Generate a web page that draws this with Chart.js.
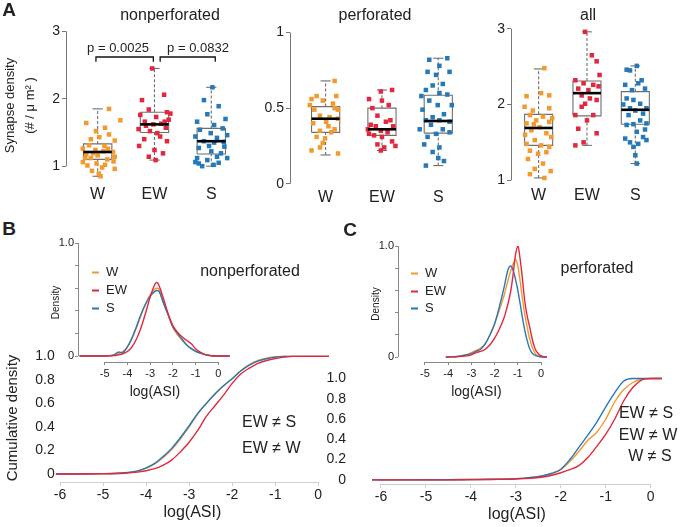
<!DOCTYPE html>
<html>
<head>
<meta charset="utf-8">
<script src="https://cdn.jsdelivr.net/npm/chart.js@4.4.1/dist/chart.umd.min.js"></script>
<style>
  body { margin: 0; background: #fff; }
  #page { position: relative; width: 682px; height: 527px; overflow: hidden; font-family: "Liberation Sans", Arial, sans-serif; color: #222; }
  canvas { position: absolute; }
  .t { position: absolute; white-space: nowrap; transform: translate(-50%, -50%); line-height: 1; }
  .l { position: absolute; white-space: nowrap; transform: translate(0, -50%); line-height: 1; }
  .dash { display: inline-block; width: 7px; height: 2px; vertical-align: middle; margin-right: 7px; }
</style>
</head>
<body>
<div id="page">
  <canvas id="a1"></canvas>
  <canvas id="a2"></canvas>
  <canvas id="a3"></canvas>
  <canvas id="bMain"></canvas>
  <canvas id="bInset"></canvas>
  <canvas id="cMain"></canvas>
  <canvas id="cInset"></canvas>

  <div class="t" style="left:9px;top:9px;font-size:19px;font-weight:bold">A</div>
  <div class="t" style="left:170px;top:15px;font-size:16px">nonperforated</div>
  <div class="t" style="left:375px;top:15px;font-size:16px">perforated</div>
  <div class="t" style="left:588px;top:15px;font-size:16px">all</div>
  <div class="t" style="left:118px;top:47px;font-size:13px">p = 0.0025</div>
  <div class="t" style="left:198px;top:47px;font-size:13px">p = 0.0832</div>

  <div class="t" style="left:9px;top:228px;font-size:19px;font-weight:bold">B</div>
  <div class="t" style="left:350px;top:229px;font-size:19px;font-weight:bold">C</div>
  <div class="t" style="left:250px;top:271px;font-size:16px">nonperforated</div>
  <div class="t" style="left:597px;top:268px;font-size:16px">perforated</div>

  <div class="l" style="left:92px;top:271px;font-size:13px"><span class="dash" style="background:#F39A2E"></span>W</div>
  <div class="l" style="left:92px;top:289px;font-size:13px"><span class="dash" style="background:#E2283E"></span>EW</div>
  <div class="l" style="left:92px;top:307px;font-size:13px"><span class="dash" style="background:#2679B8"></span>S</div>
  <div class="l" style="left:411px;top:272px;font-size:13px"><span class="dash" style="background:#F39A2E"></span>W</div>
  <div class="l" style="left:411px;top:290px;font-size:13px"><span class="dash" style="background:#E2283E"></span>EW</div>
  <div class="l" style="left:411px;top:307px;font-size:13px"><span class="dash" style="background:#2679B8"></span>S</div>

  <div class="l" style="left:242px;top:422px;font-size:16px">EW ≠ S</div>
  <div class="l" style="left:242px;top:448px;font-size:16px">EW ≠ W</div>
  <div class="t" style="left:646px;top:413px;font-size:16px">EW ≠ S</div>
  <div class="t" style="left:648px;top:435px;font-size:16px">EW ≠ W</div>
  <div class="t" style="left:650px;top:456px;font-size:16px">W ≠ S</div>
</div>
<script>
// ---- data ----
const groups = ["W", "EW", "S"];

// box stats: [min, q1, median, q3, max] for W, EW, S
const nonperfBox = [[0.85, 1.10, 1.21, 1.33, 1.85], [1.09, 1.50, 1.62, 1.80, 2.45], [1.00, 1.18, 1.37, 1.56, 2.17]];
const perfBox = [[0.19, 0.34, 0.43, 0.51, 0.68], [0.22, 0.32, 0.36, 0.50, 0.62], [0.12, 0.335, 0.415, 0.585, 0.83]];
const allBox = [[1.03, 1.46, 1.69, 1.87, 2.47], [1.46, 1.85, 2.15, 2.31, 2.96], [1.22, 1.74, 1.93, 2.17, 2.51]];

// individual animals: [jitter offset, density]
const nonperfW = [[0.2,1.85],[0.4,1.68],[-0.2,1.64],[0.13,1.57],[-0.03,1.52],[0.2,1.47],[0.03,1.43],[-0.12,1.40],[0.3,1.38],[-0.15,1.31],[0.12,1.30],[-0.26,1.26],[-0.04,1.24],[0.1,1.22],[0.27,1.21],[-0.2,1.18],[0.0,1.16],[0.3,1.14],[-0.12,1.12],[0.17,1.10],[-0.26,1.06],[-0.02,1.04],[0.28,1.07],[-0.18,1.01],[0.08,0.98],[0.3,0.96],[-0.1,0.93],[0.02,0.89],[0.05,0.85],[0.18,1.26],[-0.08,1.19],[0.13,1.02],[-0.22,1.12]];
const nonperfEW = [[-0.04,2.45],[0.17,2.06],[-0.22,1.98],[-0.1,1.84],[0.22,1.80],[-0.25,1.76],[0.03,1.73],[0.25,1.69],[-0.17,1.66],[-0.02,1.62],[0.12,1.63],[0.2,1.57],[-0.28,1.55],[-0.08,1.52],[0.05,1.49],[-0.18,1.40],[0.22,1.37],[-0.27,1.30],[0.0,1.24],[0.15,1.19],[-0.1,1.14],[0.02,1.09],[0.28,1.78],[0.1,1.44],[-0.15,1.60],[0.18,1.66]];
const nonperfS = [[0.02,2.17],[-0.13,1.98],[0.13,1.89],[-0.07,1.77],[-0.25,1.66],[0.25,1.70],[0.05,1.61],[-0.2,1.54],[0.2,1.56],[-0.01,1.49],[-0.28,1.44],[0.1,1.42],[0.28,1.46],[-0.13,1.37],[0.05,1.35],[0.23,1.29],[-0.22,1.27],[0.0,1.22],[0.17,1.19],[-0.25,1.12],[-0.07,1.09],[0.1,1.14],[0.28,1.12],[-0.22,1.04],[-0.16,1.0],[0.04,1.02],[0.22,1.36],[-0.04,1.30],[0.13,1.05],[-0.28,1.06]];

const perfW = [[0.16,0.68],[-0.25,0.56],[-0.16,0.58],[0.19,0.58],[-0.05,0.55],[0.13,0.53],[0.22,0.49],[-0.2,0.49],[-0.1,0.45],[0.07,0.44],[0.22,0.43],[-0.22,0.40],[0.01,0.41],[0.16,0.36],[-0.1,0.35],[0.1,0.34],[-0.16,0.31],[-0.01,0.30],[-0.25,0.22],[-0.1,0.24],[0.22,0.20],[0.16,0.50],[-0.28,0.52],[0.05,0.38],[-0.05,0.27]];
const perfEW = [[0.18,0.62],[-0.02,0.61],[-0.23,0.56],[0.0,0.55],[0.12,0.52],[-0.17,0.50],[-0.08,0.45],[0.07,0.41],[0.15,0.42],[-0.2,0.39],[-0.11,0.38],[-0.02,0.35],[0.1,0.34],[-0.23,0.33],[-0.14,0.32],[0.0,0.31],[0.18,0.28],[-0.08,0.26],[0.04,0.24],[0.24,0.25],[-0.02,0.22],[0.2,0.38],[-0.25,0.36]];
const perfS = [[-0.16,0.82],[0.16,0.83],[0.02,0.78],[-0.19,0.74],[0.2,0.74],[-0.04,0.72],[0.08,0.66],[-0.1,0.65],[-0.22,0.62],[0.02,0.60],[0.16,0.59],[-0.16,0.55],[-0.01,0.52],[-0.28,0.49],[0.1,0.46],[-0.1,0.44],[-0.22,0.42],[0.02,0.42],[0.2,0.41],[-0.13,0.39],[-0.33,0.36],[0.08,0.36],[-0.04,0.33],[-0.19,0.31],[0.2,0.34],[-0.25,0.26],[0.02,0.24],[-0.1,0.21],[0.1,0.15],[-0.22,0.12],[0.0,0.17],[0.24,0.52],[-0.3,0.58]];

const allW = [[0.12,2.48],[-0.25,2.11],[0.05,2.15],[0.22,2.12],[-0.29,1.97],[-0.12,1.92],[0.22,1.95],[-0.18,1.86],[0.09,1.84],[-0.05,1.79],[0.22,1.77],[-0.25,1.75],[0.02,1.70],[-0.15,1.66],[0.16,1.62],[0.26,1.57],[-0.08,1.53],[-0.25,1.48],[0.05,1.46],[0.22,1.44],[-0.18,1.39],[-0.01,1.35],[0.16,1.37],[-0.22,1.28],[0.09,1.22],[-0.08,1.15],[-0.18,1.08],[0.12,1.03],[0.25,1.12],[-0.28,1.60],[0.28,1.82],[-0.1,1.74]];
const allEW = [[-0.04,2.96],[0.1,2.65],[0.2,2.57],[0.26,2.39],[-0.24,2.32],[-0.07,2.28],[0.13,2.26],[-0.18,2.21],[0.03,2.19],[-0.11,2.12],[0.06,2.08],[0.2,2.06],[-0.04,2.01],[-0.11,1.97],[-0.24,1.86],[0.13,1.86],[0.0,1.79],[-0.18,1.68],[0.2,1.62],[-0.07,1.50],[-0.24,1.46],[0.24,2.24]];
const allS = [[0.03,2.51],[-0.18,2.46],[-0.11,2.45],[0.13,2.32],[0.06,2.28],[-0.21,2.26],[-0.07,2.19],[0.2,2.21],[-0.18,2.08],[-0.04,2.06],[0.1,2.01],[-0.11,1.95],[0.0,1.92],[0.23,1.95],[0.16,1.88],[-0.14,1.86],[0.1,1.79],[-0.18,1.73],[-0.04,1.74],[0.23,1.75],[0.03,1.64],[-0.21,1.55],[0.16,1.57],[-0.11,1.50],[0.06,1.48],[0.23,1.53],[-0.04,1.44],[0.0,1.33],[0.03,1.22],[0.2,1.67],[-0.25,2.0]];

// cumulative distributions of log(ASI)
const cumXB = [-6.1,-5,-4.5,-4.2,-4,-3.8,-3.6,-3.4,-3.2,-3,-2.8,-2.6,-2.4,-2.2,-2,-1.8,-1.6,-1.4,-1.2,-1,-0.8,-0.6,-0.4,-0.2,0,0.25];
const cumBW  = [0,0.003,0.01,0.025,0.048,0.085,0.14,0.21,0.3,0.4,0.51,0.6,0.68,0.75,0.81,0.88,0.93,0.965,0.985,0.997,1,1,1,1,1,1];
const cumBEW = [0,0.002,0.007,0.016,0.028,0.045,0.075,0.12,0.19,0.27,0.37,0.49,0.58,0.67,0.77,0.85,0.9,0.94,0.965,0.982,0.993,1,1,1,1,1];
const cumBS  = [0,0.003,0.011,0.027,0.052,0.09,0.15,0.22,0.31,0.41,0.515,0.6,0.68,0.75,0.81,0.875,0.925,0.96,0.98,0.993,1,1,1,1,1,1];

const cumXC = [-6.2,-4.5,-4,-3.5,-3,-2.8,-2.6,-2.4,-2.2,-2,-1.8,-1.6,-1.4,-1.2,-1,-0.8,-0.6,-0.4,-0.2,0,0.25];
const cumCW  = [0,0.001,0.003,0.006,0.012,0.017,0.025,0.038,0.06,0.1,0.18,0.28,0.39,0.47,0.6,0.77,0.89,0.96,0.995,1,1];
const cumCEW = [0,0,0.002,0.004,0.008,0.012,0.018,0.028,0.045,0.07,0.1,0.14,0.22,0.33,0.45,0.6,0.78,0.91,0.985,1,1];
const cumCS  = [0,0.001,0.003,0.006,0.012,0.017,0.025,0.04,0.065,0.105,0.2,0.32,0.44,0.57,0.72,0.86,0.975,1,1,1,1];

// kernel densities of log(ASI)
const densXB = [-6.1,-5,-4.6,-4.4,-4.2,-4,-3.8,-3.6,-3.4,-3.2,-3,-2.8,-2.7,-2.6,-2.4,-2.2,-2,-1.8,-1.6,-1.4,-1.2,-1,-0.8,-0.6,-0.4,-0.2,0,0.5];
const densBW  = [0,0,0.005,0.02,0.04,0.08,0.15,0.25,0.36,0.46,0.54,0.59,0.6,0.59,0.47,0.36,0.25,0.19,0.14,0.1,0.07,0.045,0.03,0.015,0.005,0,0,0];
const densBEW = [0,0,0.003,0.01,0.02,0.04,0.08,0.15,0.25,0.38,0.52,0.63,0.65,0.62,0.5,0.37,0.27,0.21,0.17,0.14,0.11,0.065,0.035,0.015,0.006,0.002,0,0];
const densBS  = [0,0,0.01,0.035,0.03,0.08,0.16,0.26,0.37,0.46,0.53,0.57,0.58,0.57,0.46,0.36,0.26,0.2,0.15,0.1,0.065,0.04,0.025,0.012,0.004,0,0,0];

const densXC = [-4.1,-3.6,-3.2,-3,-2.8,-2.6,-2.4,-2.2,-2,-1.8,-1.6,-1.5,-1.4,-1.3,-1.2,-1.1,-1,-0.9,-0.8,-0.7,-0.6,-0.5,-0.4,-0.3,-0.2,0,0.25];
const densCW  = [0,0.005,0.02,0.04,0.06,0.08,0.12,0.2,0.3,0.42,0.55,0.63,0.71,0.78,0.84,0.88,0.82,0.68,0.52,0.38,0.27,0.17,0.1,0.05,0.02,0.005,0];
const densCEW = [0,0.003,0.01,0.02,0.04,0.05,0.07,0.11,0.17,0.25,0.35,0.42,0.5,0.6,0.75,0.92,1.0,0.88,0.7,0.5,0.37,0.28,0.18,0.1,0.05,0.01,0];
const densCS  = [0,0.005,0.02,0.03,0.05,0.07,0.12,0.2,0.3,0.45,0.62,0.72,0.8,0.82,0.78,0.7,0.6,0.48,0.35,0.24,0.15,0.08,0.04,0.02,0.01,0,0];

const yTicksNonperf = [1, 2, 3];
const yTicksPerf = [0, 0.5, 1];
const yTicksAll = [1, 2, 3];
const cumTicksY = [0, 0.2, 0.4, 0.6, 0.8, 1];
const cumTicksX = [-6, -5, -4, -3, -2, -1, 0];
const densTicksY = [0, 0.2, 0.4, 0.6, 0.8, 1];
const densTicksX = [-5, -4, -3, -2, -1, 0];

// ---- styling ----
const colorW = "#F39A2E", colorEW = "#E2283E", colorS = "#2679B8";
const groupColors = [colorW, colorEW, colorS];

Chart.defaults.font.family = '"Liberation Sans", Arial, sans-serif';
Chart.defaults.color = "#222";
Chart.defaults.animation = false;
Chart.defaults.plugins.legend.display = false;
Chart.defaults.plugins.tooltip.enabled = false;

// axis lines that only span part of the scale
Chart.register({
  id: "axisLine",
  afterDatasetsDraw(chart, args, opts) {
    const ctx = chart.ctx, a = chart.chartArea;
    ctx.save();
    ctx.strokeStyle = opts.color || "#888";
    ctx.lineWidth = 1;
    (opts.lines || []).forEach(l => {
      const s = chart.scales[l.axis];
      const p0 = s.getPixelForValue(l.from), p1 = s.getPixelForValue(l.to);
      ctx.beginPath();
      if (l.axis === "y") { ctx.moveTo(a.left + 0.5, p0); ctx.lineTo(a.left + 0.5, p1); }
      else { ctx.moveTo(p0, a.bottom + 0.5); ctx.lineTo(p1, a.bottom + 0.5); }
      ctx.stroke();
    });
    ctx.restore();
  }
});

// size + place a canvas so the chart area lands on a given box
function place(id, area, yW, xH, padT, padR) {
  const c = document.getElementById(id);
  c.width = Math.round(area.r - area.l + yW + padR);
  c.height = Math.round(area.b - area.t + padT + xH);
  c.style.left = (area.l - yW) + "px";
  c.style.top = (area.t - padT) + "px";
  return c;
}

function axis(min, max, ticks, fmt, fit, extra) {
  return Object.assign({
    type: "linear", min, max,
    afterBuildTicks: s => { s.ticks = ticks.map(v => ({ value: v })); },
    afterFit: fit,
    border: { display: false },
    grid: { display: false, drawTicks: false },
    ticks: { autoSkip: false, maxRotation: 0, callback: fmt }
  }, extra);
}

function line(pts, extra) {
  return Object.assign({
    data: pts.map(p => ({ x: p[0], y: p[1] })),
    showLine: true, pointRadius: 0, borderColor: "#6f6f6f", borderWidth: 1.1, order: 2
  }, extra);
}

function boxPanel(o) {
  const sets = [];
  o.boxes.forEach((b, i) => {
    const x = i + 1, w = o.halfW, c = o.capW;
    const [lo, q1, med, q3, hi] = b;
    sets.push(line([[x - w, q1], [x + w, q1], [x + w, q3], [x - w, q3], [x - w, q1]]));
    sets.push(line([[x, q3], [x, hi]], { borderDash: [3, 2] }));
    sets.push(line([[x, lo], [x, q1]], { borderDash: [3, 2] }));
    sets.push(line([[x - c, hi], [x + c, hi]]));
    sets.push(line([[x - c, lo], [x + c, lo]]));
    sets.push(line([[x - w, med], [x + w, med]], { borderColor: "#000", borderWidth: 2.6, order: 0 }));
  });
  o.points.forEach((g, i) => sets.push({
    data: g.map(p => ({ x: i + 1 + p[0], y: p[1] })),
    pointStyle: "rect", pointRadius: 3.2, backgroundColor: groupColors[i], borderWidth: 0, order: 1
  }));
  (o.extra || []).forEach(s => sets.push(s));

  const canvas = place(o.id, o.area, o.yW, 25, 12, 2);
  const yExtra = {
    grid: { display: true, drawOnChartArea: false, drawTicks: true, tickLength: 4, color: "#777" },
    ticks: { autoSkip: false, padding: 2, font: { size: 14 }, callback: o.fmt }
  };
  if (o.yTitle) yExtra.title = { display: true, text: o.yTitle, padding: 0, font: { size: 13, lineHeight: 1.55 } };
  new Chart(canvas, {
    type: "scatter",
    data: { datasets: sets },
    options: {
      responsive: false, devicePixelRatio: 1,
      layout: { padding: { top: 12, right: 2, left: 0, bottom: 0 } },
      scales: {
        x: axis(o.xMin, o.xMax, [1, 2, 3], (v, i) => groups[i], s => { s.height = 25; },
          { ticks: { autoSkip: false, maxRotation: 0, padding: 2, font: { size: 16 }, callback: (v, i) => groups[i] } }),
        y: axis(o.yMin, o.yMax, o.yTicks, o.fmt, s => { s.width = o.yW; }, yExtra)
      },
      plugins: { axisLine: { color: "#777", lines: [{ axis: "y", from: o.yTicks[0], to: o.yTicks[o.yTicks.length - 1] }] } }
    }
  });
}

function curveSet(xs, ys, color, mono) {
  return {
    data: xs.map((x, i) => ({ x, y: ys[i] })),
    showLine: true, pointRadius: 0, borderColor: color, borderWidth: 1.4,
    tension: 0.35, cubicInterpolationMode: mono ? "monotone" : "default"
  };
}

function cumPanel(o) {
  const canvas = place(o.id, o.area, o.yW, 40, 12, 8);
  const cfgY = {
    ticks: { autoSkip: false, padding: o.yPad, font: { size: 14 }, callback: v => v === 0 ? "0" : v.toFixed(1) }
  };
  if (o.yTitle) cfgY.title = { display: true, text: o.yTitle, padding: { top: 4, bottom: 0 }, font: { size: 15 } };
  new Chart(canvas, {
    type: "scatter",
    data: { datasets: o.sets },
    options: {
      responsive: false, devicePixelRatio: 1,
      layout: { padding: { top: 12, right: 8, left: 0, bottom: 0 } },
      scales: {
        x: axis(o.xMin, o.xMax, cumTicksX, v => String(v), s => { s.height = 40; }, {
          grid: { display: true, drawOnChartArea: false, drawTicks: true, tickLength: 4, color: "#cfcfcf" },
          ticks: { autoSkip: false, maxRotation: 0, padding: 1, font: { size: 14 }, callback: v => String(v) },
          title: { display: true, text: "log(ASI)", padding: 0, font: { size: 16 } }
        }),
        y: axis(o.yMin, o.yMax, cumTicksY, null, s => { s.width = o.yW; }, cfgY)
      },
      plugins: { axisLine: { color: "#cfcfcf", lines: [{ axis: "x", from: -6, to: 0 }] } }
    }
  });
}

function densPanel(o) {
  const canvas = place(o.id, o.area, 28, 39, 12, 4);
  new Chart(canvas, {
    type: "scatter",
    data: { datasets: o.sets },
    options: {
      responsive: false, devicePixelRatio: 1,
      layout: { padding: { top: 12, right: 4, left: 0, bottom: 0 } },
      scales: {
        x: axis(o.xMin, o.xMax, densTicksX, v => String(v), s => { s.height = 39; }, {
          grid: { display: true, drawOnChartArea: false, drawTicks: true, tickLength: 3, color: "#888" },
          ticks: { autoSkip: false, maxRotation: 0, padding: 2, font: { size: 11 }, callback: v => String(v) },
          title: { display: true, text: "log(ASI)", padding: 0, font: { size: 14 } }
        }),
        y: axis(o.yMin, 1, densTicksY, null, s => { s.width = 28; }, {
          grid: { display: true, drawOnChartArea: false, drawTicks: true, tickLength: 3, color: "#888" },
          ticks: { autoSkip: false, padding: 1, font: { size: 11 }, callback: v => v === 1 ? "1.0" : (v === 0 ? "0" : "") },
          title: { display: true, text: "Density", padding: 0, font: { size: 10 } }
        })
      },
      plugins: { axisLine: { color: "#888", lines: [{ axis: "y", from: 0, to: 1 }, { axis: "x", from: -5, to: 0 }] } }
    }
  });
}

// ---- panel A ----
const bracketTop = 2.62, bracketTip = 2.55;
boxPanel({
  id: "a1", area: { l: 66, r: 240, t: 27.6, b: 182.9 }, yW: 66,
  xMin: 0.443, xMax: 3.47, yMin: 0.75, yMax: 3.05, yTicks: yTicksNonperf, fmt: v => String(v),
  boxes: nonperfBox, points: [nonperfW, nonperfEW, nonperfS], halfW: 0.25, capW: 0.09,
  yTitle: ["Synapse density", "(# / \u03bc m\u00b2 )"],
  extra: [
    line([[0.97, bracketTip], [0.97, bracketTop], [1.98, bracketTop], [1.98, bracketTip]], { borderColor: "#111", borderWidth: 1.3 }),
    line([[2.1, bracketTip], [2.1, bracketTop], [3.07, bracketTop], [3.07, bracketTip]], { borderColor: "#111", borderWidth: 1.3 })
  ]
});
boxPanel({
  id: "a2", area: { l: 290, r: 460, t: 27.5, b: 185.3 }, yW: 40,
  xMin: 0.368, xMax: 3.35, yMin: -0.015, yMax: 1.03, yTicks: yTicksPerf, fmt: v => String(v),
  boxes: perfBox, points: [perfW, perfEW, perfS], halfW: 0.25, capW: 0.09
});
boxPanel({
  id: "a3", area: { l: 511, r: 662, t: 25.2, b: 183.8 }, yW: 22,
  xMin: 0.429, xMax: 3.51, yMin: 0.95, yMax: 3.05, yTicks: yTicksAll, fmt: v => String(v),
  boxes: allBox, points: [allW, allEW, allS], halfW: 0.29, capW: 0.1
});

// ---- panel B ----
cumPanel({
  id: "bMain", area: { l: 55.7, r: 328.75, t: 353.6, b: 482 }, yW: 55.7, yPad: 1,
  xMin: -6.1, xMax: 0.25, yMin: -0.068, yMax: 1.02, yTitle: "Cumulative density",
  sets: [curveSet(cumXB, cumBEW, colorEW, true), curveSet(cumXB, cumBS, colorS, true), curveSet(cumXB, cumBW, colorW, true)]
});
densPanel({
  id: "bInset", area: { l: 78, r: 231.6, t: 243, b: 362 },
  xMin: -6.17, xMax: 0.6, yMin: -0.053,
  sets: [curveSet(densXB, densBEW, colorEW), curveSet(densXB, densBS, colorS), curveSet(densXB, densBW, colorW)]
});

// ---- panel C ----
cumPanel({
  id: "cMain", area: { l: 372, r: 662.25, t: 353.5, b: 483 }, yW: 47, yPad: 26,
  xMin: -6.2, xMax: 0.25, yMin: -0.041, yMax: 1.02,
  sets: [curveSet(cumXC, cumCEW, colorEW, true), curveSet(cumXC, cumCS, colorS, true), curveSet(cumXC, cumCW, colorW, true)]
});
densPanel({
  id: "cInset", area: { l: 398, r: 555, t: 246, b: 362 },
  xMin: -6.16, xMax: 0.6, yMin: -0.045,
  sets: [curveSet(densXC, densCEW, colorEW), curveSet(densXC, densCS, colorS), curveSet(densXC, densCW, colorW)]
});
</script>
</body>
</html>
